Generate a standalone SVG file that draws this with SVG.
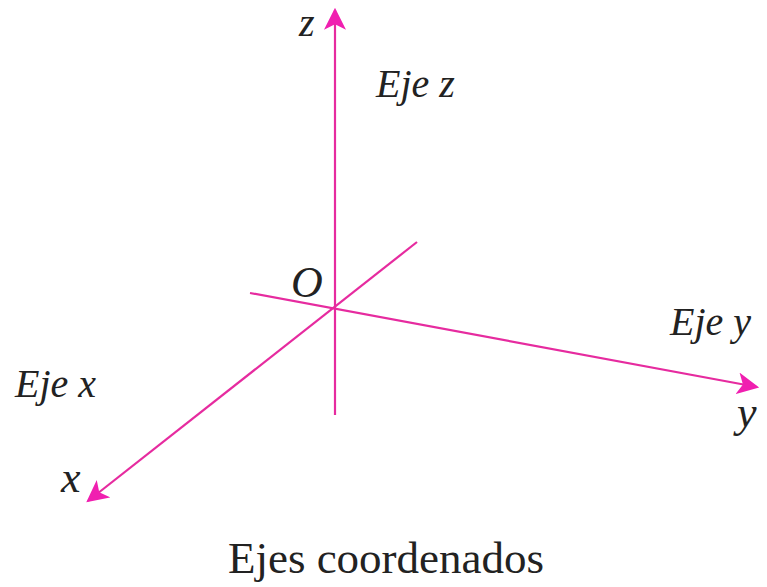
<svg xmlns="http://www.w3.org/2000/svg" width="767" height="587" viewBox="0 0 767 587">
<defs>
<style>
.ax{stroke:#e62b9f;stroke-width:2.2;fill:none}
.lb{font-family:'Liberation Serif','Times New Roman',serif;font-style:italic;font-size:40px;fill:#222}
.sl{font-family:'Liberation Serif','Times New Roman',serif;font-style:italic;font-size:44px;fill:#222}
.tt{font-family:'Liberation Serif','Times New Roman',serif;font-size:45px;fill:#222}
</style>
<marker id="ahb" viewBox="0 0 10 10" refX="9" refY="5" markerWidth="22" markerHeight="22" markerUnits="userSpaceOnUse" orient="auto">
<path d="M0,0 L10,5 L0,10 L2.5,5 Z" fill="#f01fb0"/>
</marker>
</defs>
<rect width="767" height="587" fill="#fff"/>
<g id="connectors">
<line class="ax" x1="335" y1="415" x2="335" y2="10" marker-end="url(#ahb)"/>
<line class="ax" x1="250" y1="293" x2="757" y2="387" marker-end="url(#ahb)"/>
<line class="ax" x1="417" y1="242" x2="88" y2="501" marker-end="url(#ahb)"/>
</g>
<g id="labels">
<text class="lb" x="299" y="36">z</text>
<text class="lb" x="376" y="97">Eje z</text>
<text class="sl" x="291" y="297">O</text>
<text class="lb" x="670" y="335">Eje y</text>
<text class="sl" x="737" y="427">y</text>
<text class="lb" x="15" y="397">Eje x</text>
<text class="sl" x="61" y="492">x</text>
<text class="tt" x="386" y="573" text-anchor="middle">Ejes coordenados</text>
</g>
</svg>
